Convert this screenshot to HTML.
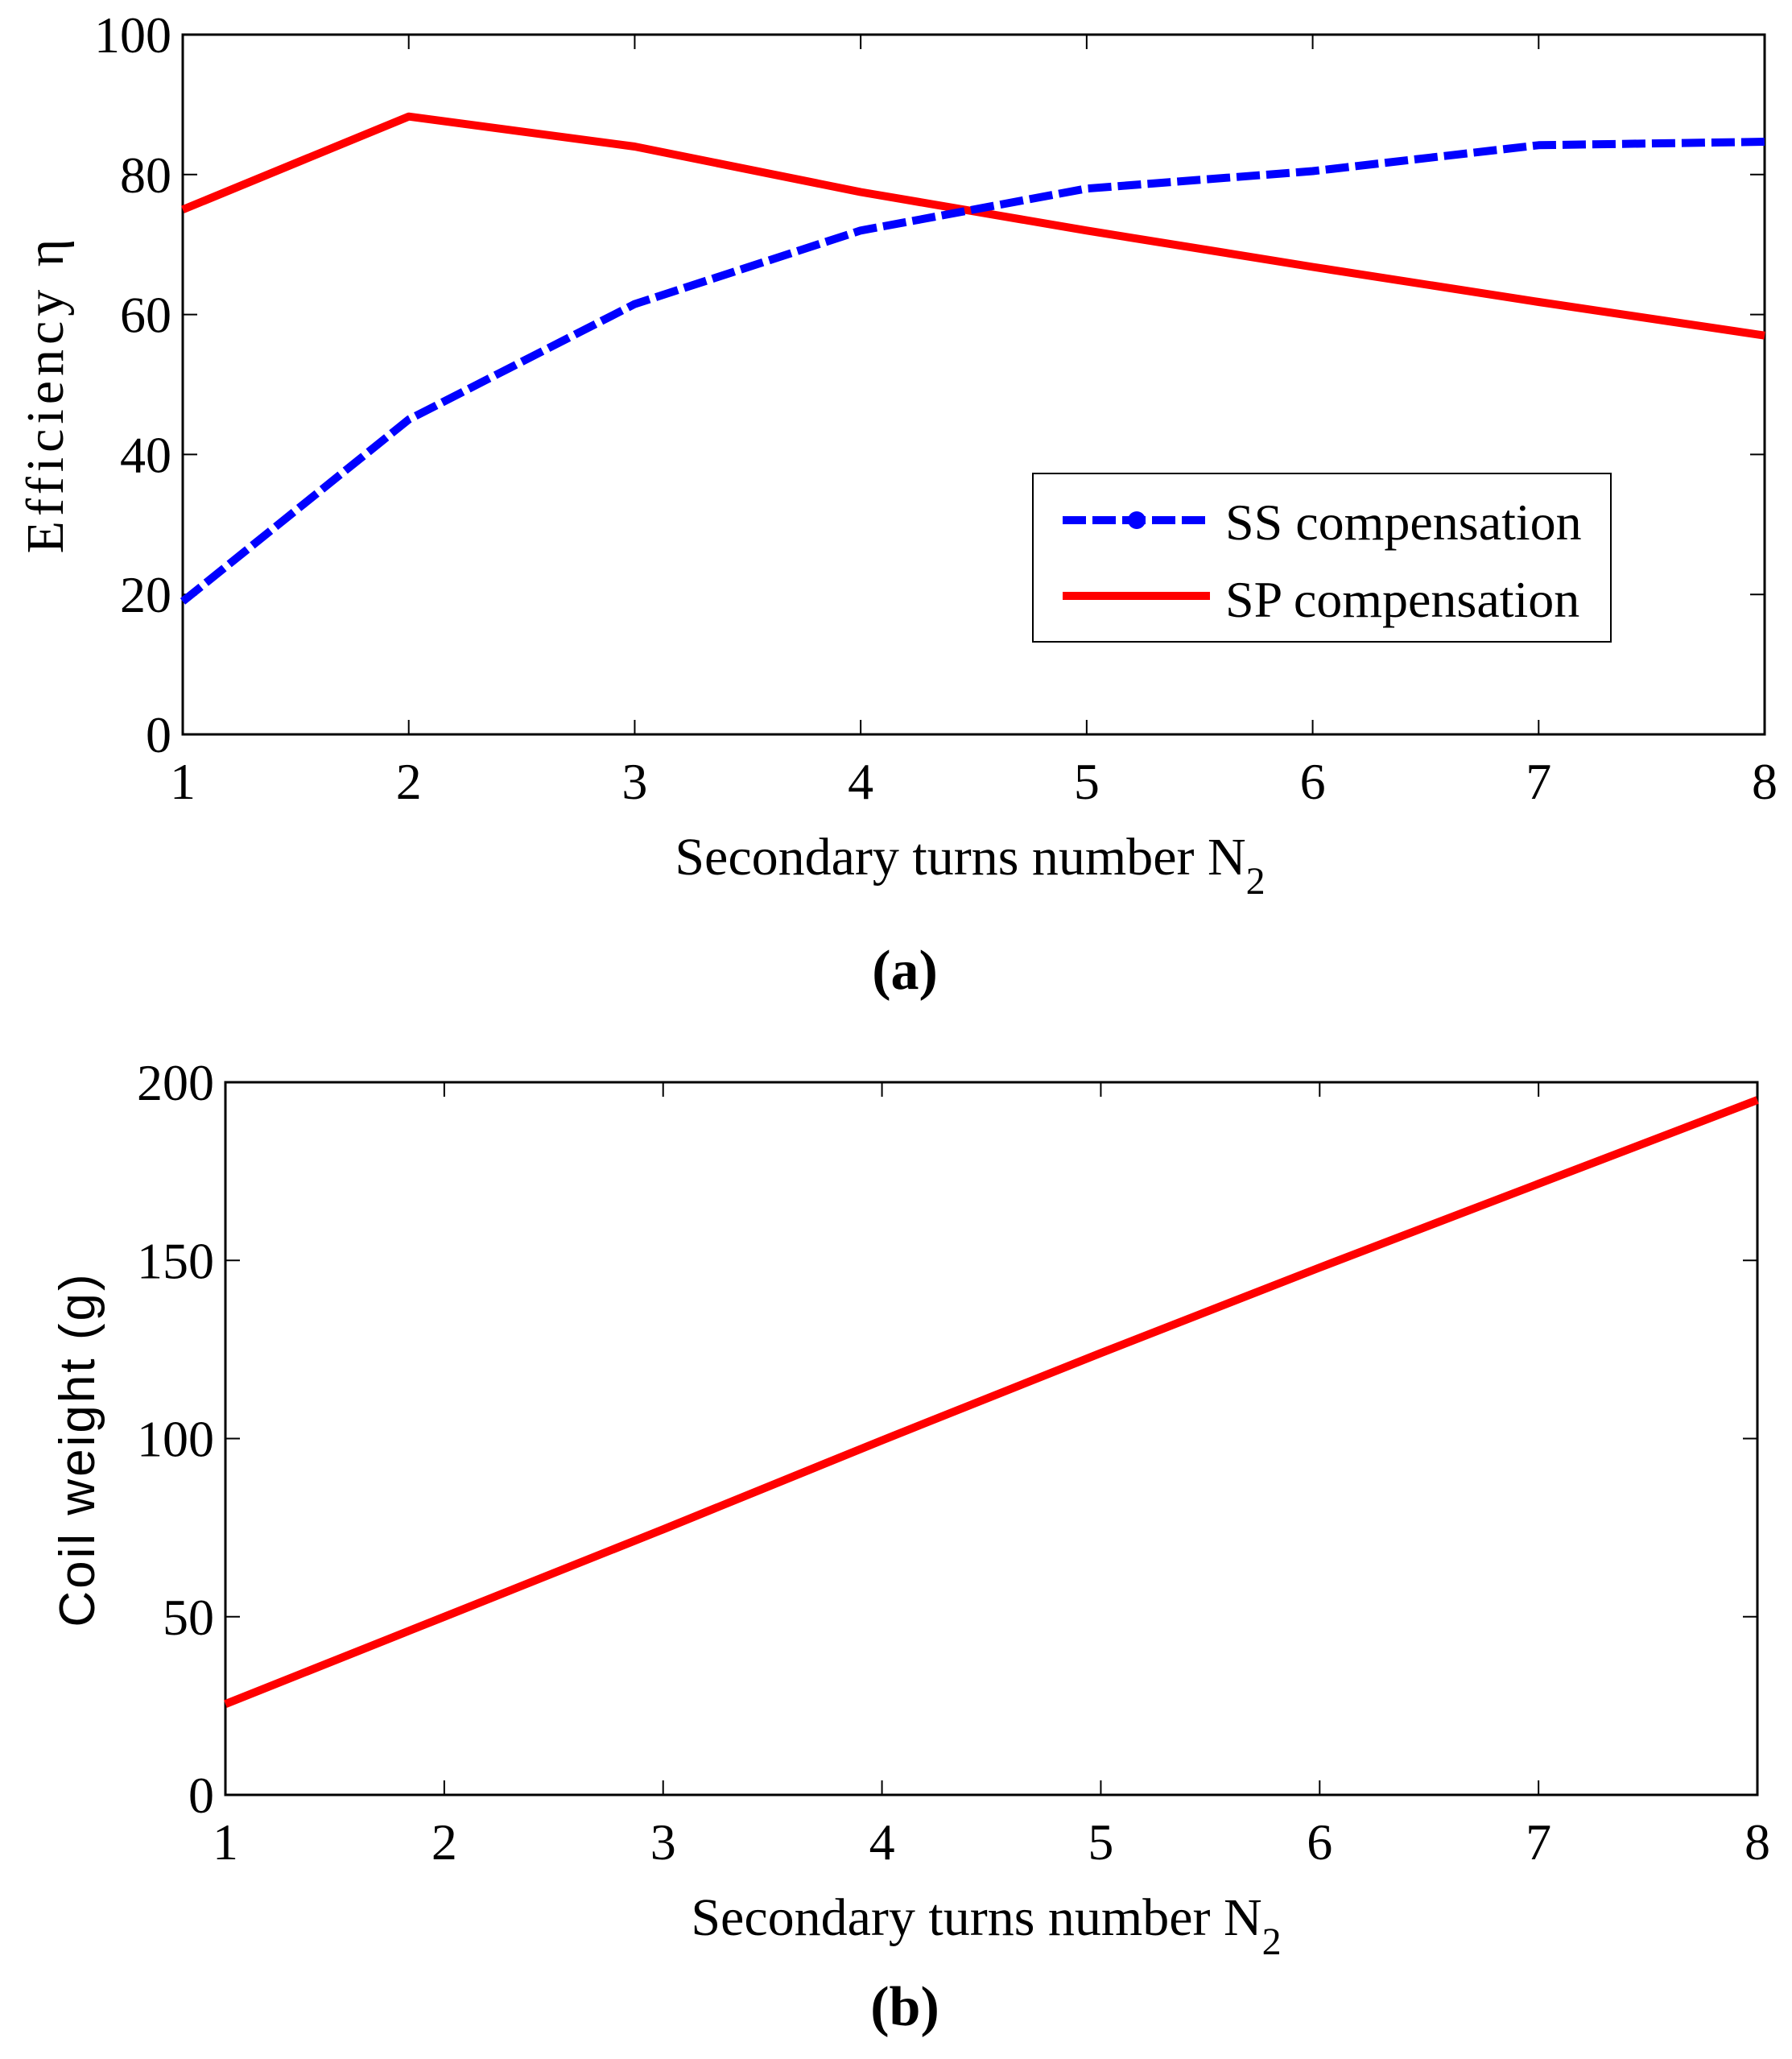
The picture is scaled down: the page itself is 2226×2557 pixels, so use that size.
<!DOCTYPE html>
<html><head><meta charset="utf-8"><style>
html,body{margin:0;padding:0;background:#fff;}
svg{display:block;}
text{font-family:"Liberation Serif",serif;fill:#000;}
</style></head><body>
<svg id="chart" width="2226" height="2557" viewBox="0 0 2226 2557" xmlns="http://www.w3.org/2000/svg">
<rect width="2226" height="2557" fill="#fff"/>
<g id="pa"></g>
<g id="pb"></g>
</svg>
<script>
const xCats = [1, 2, 3, 4, 5, 6, 7, 8];
const ssValues = [19, 45, 61.5, 72, 78, 80.5, 84.2, 84.7];
const spValues = [75, 88.3, 84, 77.5, 72, 66.8, 61.8, 57];
const weightValues = [25.5, 50, 74.5, 99.5, 124, 148, 171.5, 195];
const yTicksA = [0, 20, 40, 60, 80, 100];
const yTicksB = [0, 50, 100, 150, 200];

const NS = 'http://www.w3.org/2000/svg';
function mk(parent, tag, attrs, txt) {
  const e = document.createElementNS(NS, tag);
  for (const k in attrs) e.setAttribute(k, attrs[k]);
  if (txt !== undefined) e.textContent = txt;
  parent.appendChild(e);
  return e;
}

function drawPlot(g, box, yMax, yTicks, prefix) {
  const sx = v => box.l + (v - 1) / 7 * (box.r - box.l);
  const sy = v => box.b - v / yMax * (box.b - box.t);
  const frame = mk(g, 'rect', {x: box.l, y: box.t, width: box.r - box.l, height: box.b - box.t, fill: 'none', stroke: '#000', 'stroke-width': 3});
  
  
  xCats.forEach(v => {
    const x = sx(v);
    mk(g, 'line', {x1: x, y1: box.b, x2: x, y2: box.b - 18, stroke: '#000', 'stroke-width': 2});
    mk(g, 'line', {x1: x, y1: box.t, x2: x, y2: box.t + 18, stroke: '#000', 'stroke-width': 2});
    const t = mk(g, 'text', {x: x, y: box.b + 80, 'font-size': 64, 'text-anchor': 'middle'}, String(v));
    
    
  });
  yTicks.forEach(v => {
    const y = sy(v);
    mk(g, 'line', {x1: box.l, y1: y, x2: box.l + 18, y2: y, stroke: '#000', 'stroke-width': 2});
    mk(g, 'line', {x1: box.r, y1: y, x2: box.r - 18, y2: y, stroke: '#000', 'stroke-width': 2});
    const t = mk(g, 'text', {x: box.l - 14, y: y + 22, 'font-size': 64, 'text-anchor': 'end'}, String(v));
    
    
  });
  return {sx, sy};
}

function series(g, vals, ax, attrs, name) {
  const pts = vals.map((v, i) => ax.sx(xCats[i]).toFixed(1) + ',' + ax.sy(v).toFixed(1)).join(' ');
  const p = mk(g, 'polyline', Object.assign({points: pts, fill: 'none', 'stroke-linejoin': 'round'}, attrs));
  
  
  return p;
}

// Plot (a)
const ga = document.getElementById('pa');
const boxA = {l: 227, r: 2192, t: 43, b: 912};
const axA = drawPlot(ga, boxA, 100, yTicksA, 'a');
series(ga, spValues, axA, {stroke: '#ff0000', 'stroke-width': 10}, 'sp-compensation-line');
series(ga, ssValues, axA, {stroke: '#0000ff', 'stroke-width': 10, 'stroke-dasharray': '29 8'}, 'ss-compensation-line');

let t;
t = mk(ga, 'text', {x: 1205, y: 1086, 'font-size': 66, 'text-anchor': 'middle'});


t.appendChild(document.createTextNode('Secondary turns number N'));
mk(t, 'tspan', {'font-size': 48, dy: 24}, '2');

t = mk(ga, 'text', {x: 0, y: 0, 'font-size': 66, 'text-anchor': 'middle', 'letter-spacing': 6, transform: 'translate(78,489) rotate(-90)'}, 'Efficiency η');



t = mk(ga, 'text', {x: 1124, y: 1228, 'font-size': 70, 'font-weight': 'bold', 'text-anchor': 'middle'}, '(a)');



const leg = mk(ga, 'g', {});


mk(leg, 'rect', {x: 1283, y: 588, width: 718, height: 209, fill: '#fff', stroke: '#000', 'stroke-width': 2});
const le1 = mk(leg, 'g', {});


mk(le1, 'line', {x1: 1320, y1: 646, x2: 1503, y2: 646, stroke: '#0000ff', 'stroke-width': 10, 'stroke-dasharray': '29 8'});
mk(le1, 'circle', {cx: 1412, cy: 646, r: 11, fill: '#0000ff'});
mk(le1, 'text', {x: 1522, y: 670, 'font-size': 64}, 'SS compensation');
const le2 = mk(leg, 'g', {});


mk(le2, 'line', {x1: 1320, y1: 740, x2: 1503, y2: 740, stroke: '#ff0000', 'stroke-width': 10});
mk(le2, 'text', {x: 1522, y: 766, 'font-size': 64}, 'SP compensation');

// Plot (b)
const gb = document.getElementById('pb');
const boxB = {l: 280, r: 2183, t: 1344, b: 2229};
const axB = drawPlot(gb, boxB, 200, yTicksB, 'b');
series(gb, weightValues, axB, {stroke: '#ff0000', 'stroke-width': 10}, 'coil-weight-line');

t = mk(gb, 'text', {x: 1225, y: 2403, 'font-size': 66, 'text-anchor': 'middle'});


t.appendChild(document.createTextNode('Secondary turns number N'));
mk(t, 'tspan', {'font-size': 48, dy: 24}, '2');

t = mk(gb, 'text', {x: 0, y: 0, 'font-size': 62, 'text-anchor': 'middle', 'letter-spacing': 3, style: 'font-family:"Liberation Sans",sans-serif', transform: 'translate(117,1800) rotate(-90)'}, 'Coil weight (g)');



t = mk(gb, 'text', {x: 1124, y: 2515, 'font-size': 70, 'font-weight': 'bold', 'text-anchor': 'middle'}, '(b)');


</script>
</body></html>
